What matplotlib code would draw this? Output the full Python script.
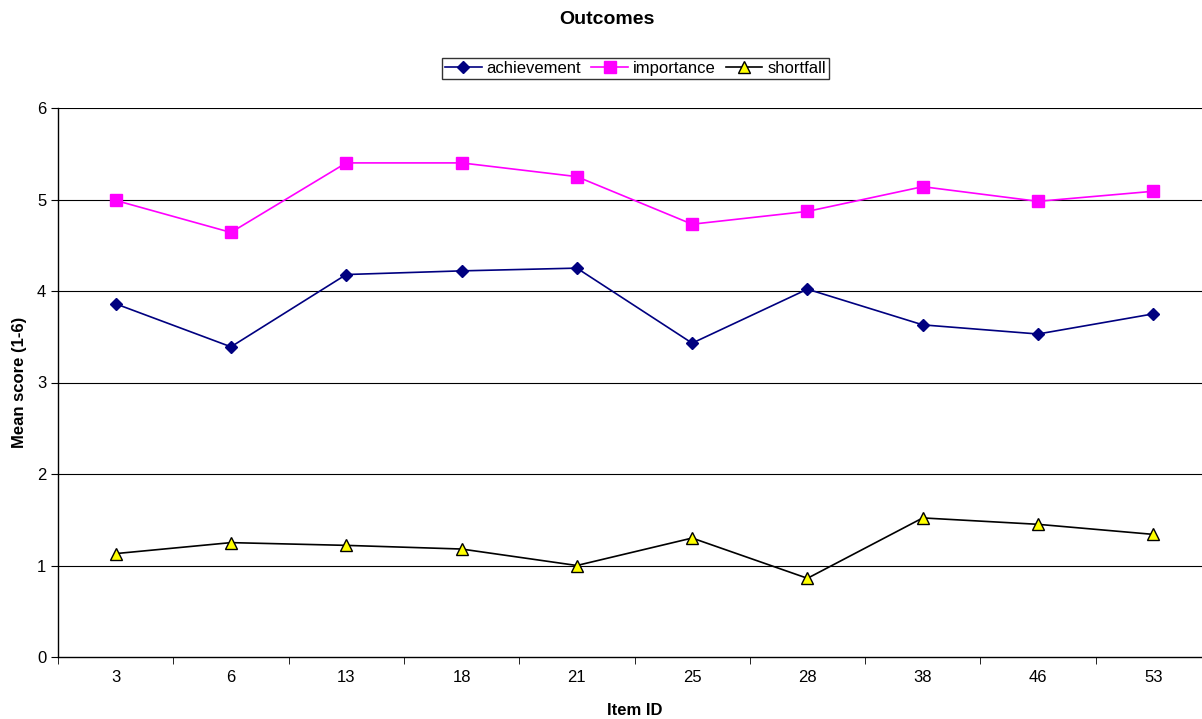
import numpy as np
import matplotlib
matplotlib.use('Agg')
import matplotlib.pyplot as plt

plt.rcParams['font.family'] = ['Liberation Sans', 'DejaVu Sans']

# mean scores per item
item_ids    = ['3', '6', '13', '18', '21', '25', '28', '38', '46', '53']
achievement = [3.86, 3.39, 4.18, 4.22, 4.25, 3.43, 4.02, 3.63, 3.53, 3.75]
importance  = [4.99, 4.64, 5.40, 5.40, 5.25, 4.73, 4.87, 5.14, 4.98, 5.09]
shortfall   = [1.13, 1.25, 1.22, 1.18, 1.00, 1.30, 0.86, 1.52, 1.45, 1.34]

fig = plt.figure(figsize=(12.02, 7.19), dpi=100)
ax = fig.add_axes([58/1202, 62/719, 1153/1202, 549/719])

x = np.arange(len(item_ids))
ax.plot(x, achievement, color='#000080', lw=1.2, marker='D', ms=6,
        mfc='#000080', mec='#000080', label='achievement', zorder=3)
ax.plot(x, importance, color='#ff00ff', lw=1.2, marker='s', ms=8,
        mfc='#ff00ff', mec='#ff00ff', label='importance', zorder=3)
ax.plot(x, shortfall, color='black', lw=1.2, marker='^', ms=8,
        mfc='#ffff00', mec='black', mew=1.0, label='shortfall', zorder=3)

ax.set_xlim(-0.5, len(item_ids) - 0.5)
ax.set_ylim(0, 6)
ax.set_yticks(range(7))
ax.set_xticks(x)
ax.set_xticklabels(item_ids)
ax.set_xticks(np.arange(-0.5, len(item_ids)), minor=True)
ax.tick_params(axis='x', which='major', length=0, labelsize=12, pad=9)
ax.tick_params(axis='x', which='minor', length=5, color='black', direction='out')
ax.tick_params(axis='y', length=5, labelsize=12, direction='out')

for yv in range(1, 7):
    ax.axhline(yv, color='black', lw=0.8, zorder=1)

for side in ['top', 'right']:
    ax.spines[side].set_visible(False)
ax.spines['left'].set_linewidth(1.0)
ax.spines['bottom'].set_linewidth(1.0)

ax.set_xlabel('Item ID', fontsize=12, fontweight='bold', labelpad=13)
ax.set_ylabel('Mean score (1-6)', fontsize=12, fontweight='bold', labelpad=7)
fig.text(607/1202, 1 - 19/719, 'Outcomes', ha='center', va='center',
         fontsize=14, fontweight='bold')

leg = fig.legend(loc='center', bbox_to_anchor=(635.5/1202, 1 - 68.5/719), ncol=3,
                 fontsize=12, frameon=True, fancybox=False, edgecolor='black',
                 borderpad=0.2, handlelength=2.2, handletextpad=0.3,
                 columnspacing=0.6, borderaxespad=0)
leg.get_frame().set_linewidth(1.0)

fig.savefig('out.png', dpi=100)
